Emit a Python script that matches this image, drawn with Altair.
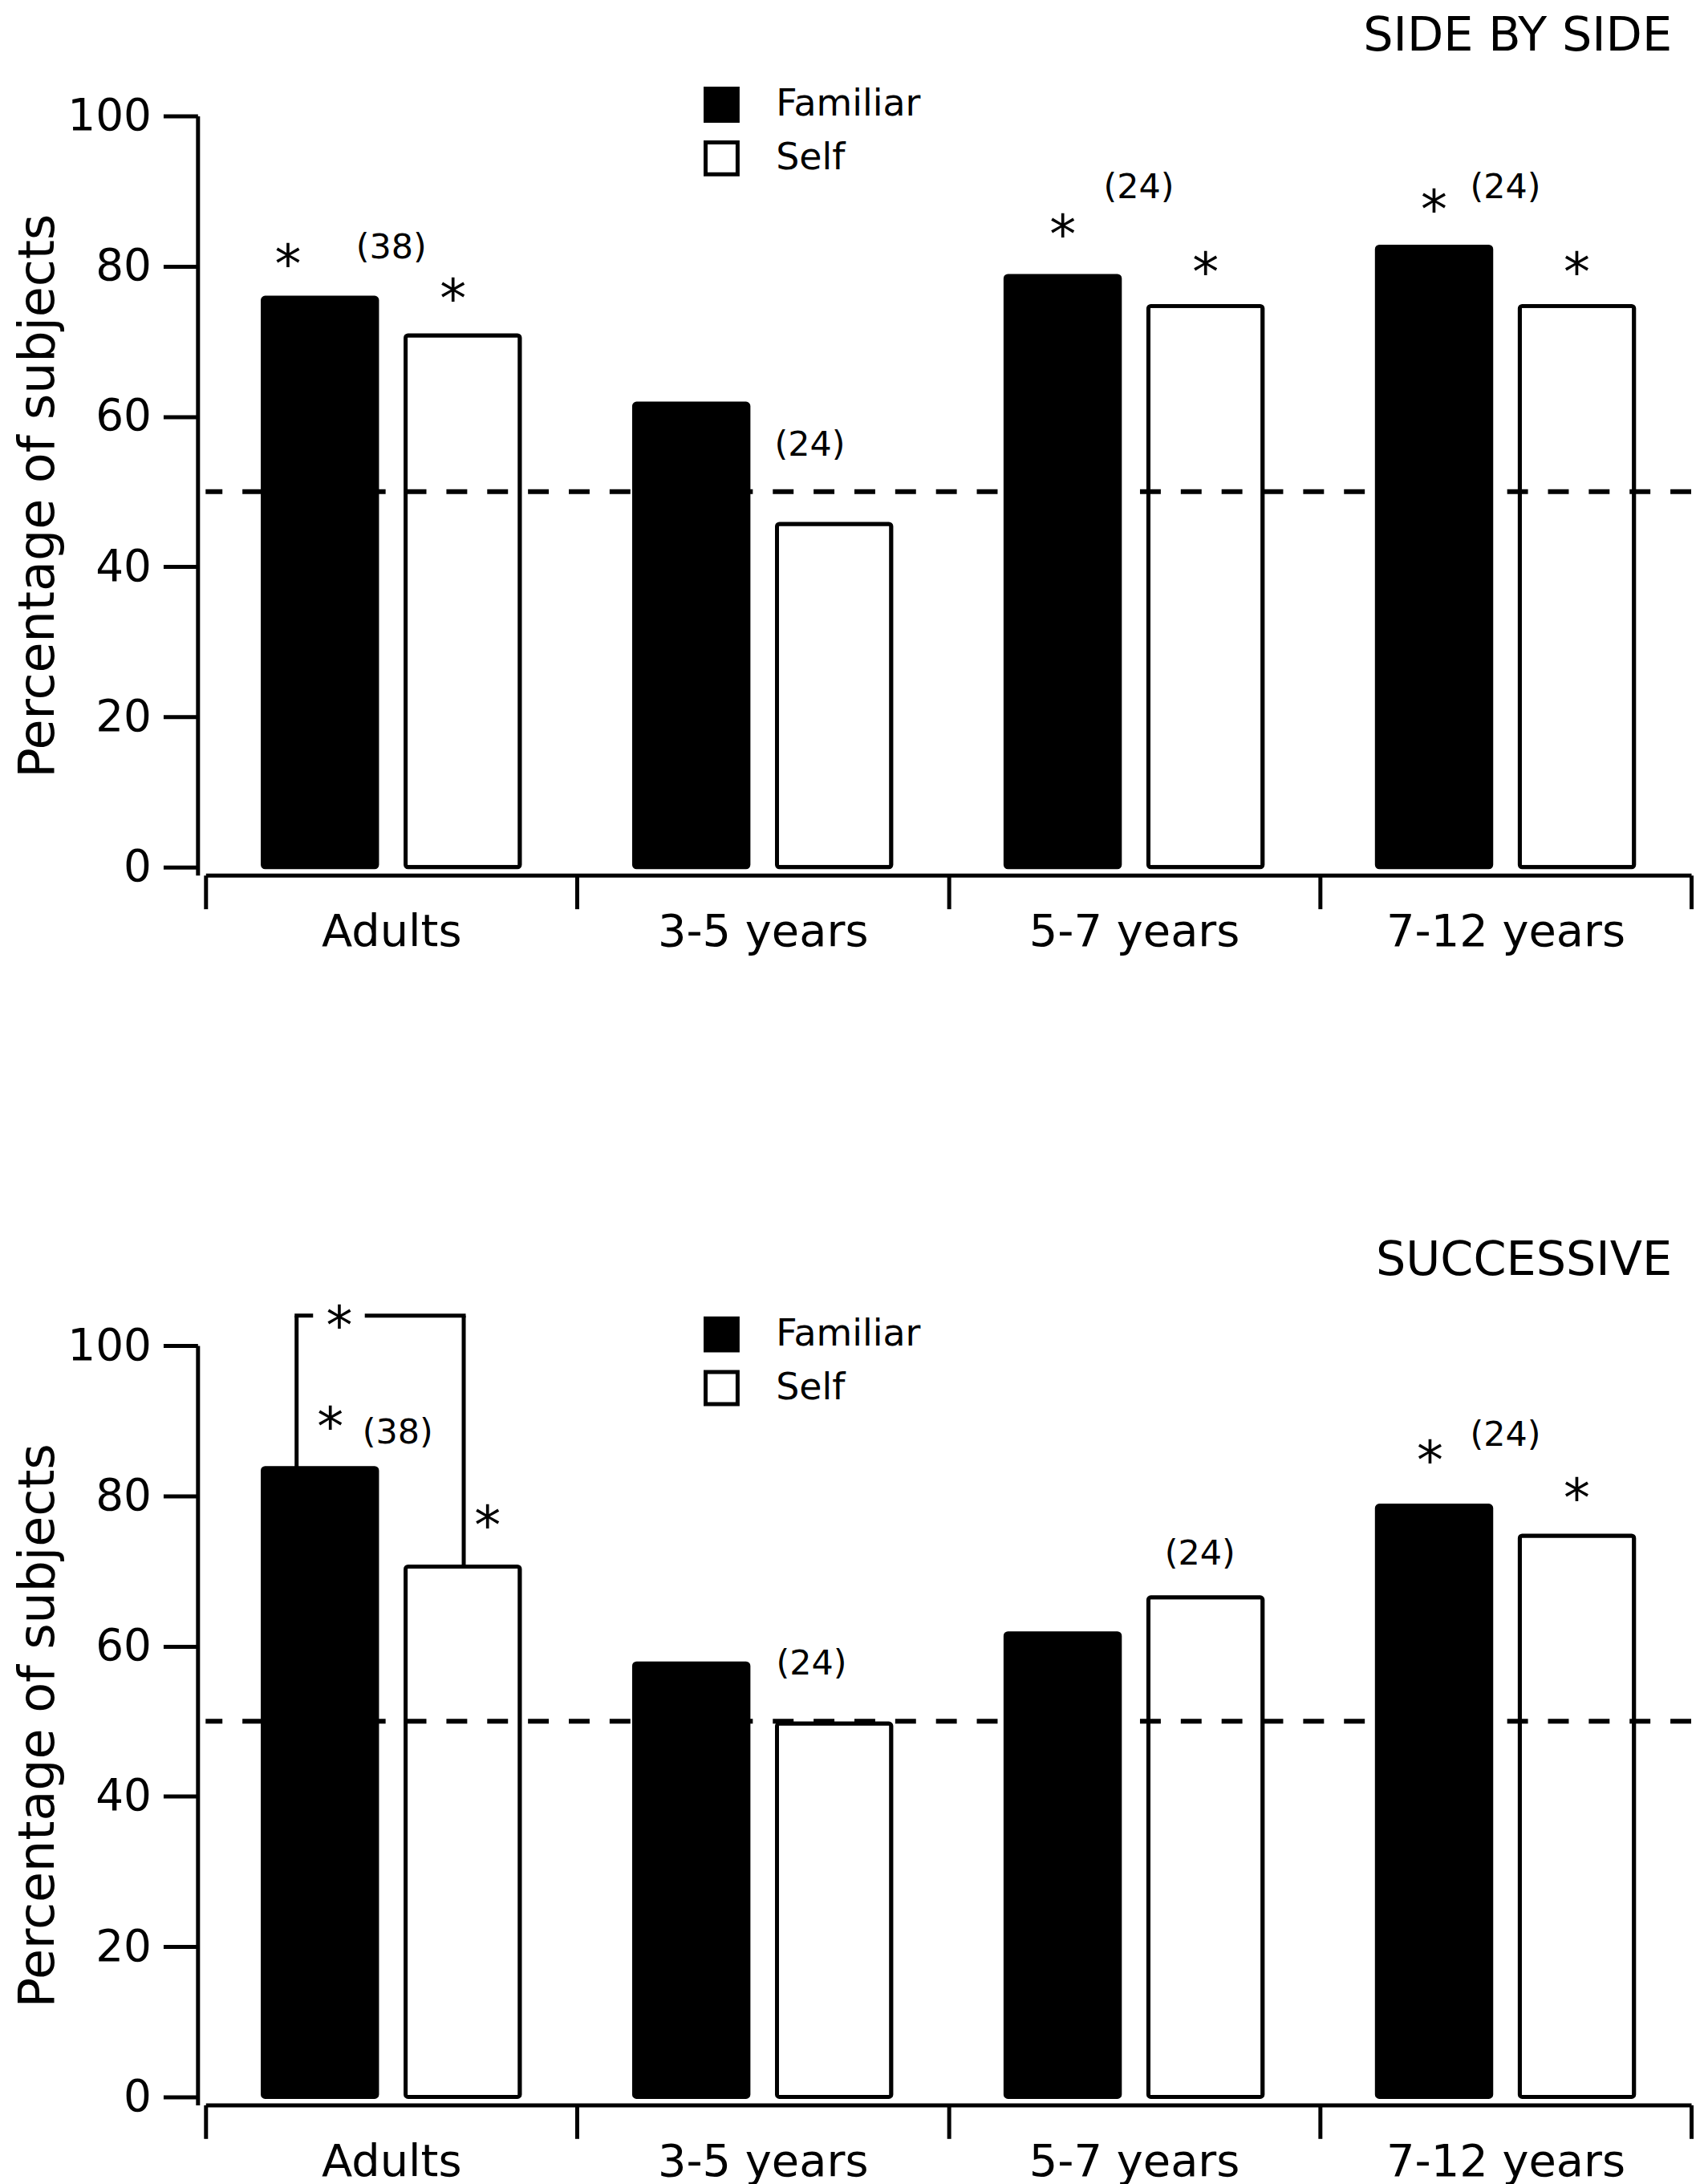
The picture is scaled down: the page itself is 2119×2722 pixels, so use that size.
import altair as alt
import pandas as pd

# ---------------- data ----------------
GROUPS = ["Adults", "3-5 years", "5-7 years", "7-12 years"]
CONDS = ["Familiar", "Self"]
SIDE_FAMILIAR = [75.8, 61.7, 78.7, 82.6]
SIDE_SELF = [70.8, 45.7, 74.7, 74.7]
SUCC_FAMILIAR = [83.7, 57.7, 61.7, 78.7]
SUCC_SELF = [70.6, 49.7, 66.5, 74.7]
CHANCE = 50
Y_TICKS = [0, 20, 40, 60, 80, 100]

# annotations: group, anchor ("Familiar"/"Self" bar or "center" of group), height, text
SIDE_ANN_GROUP = ["Adults", "Adults", "5-7 years", "5-7 years", "7-12 years", "7-12 years",
                  "Adults", "3-5 years", "5-7 years", "7-12 years"]
SIDE_ANN_ANCHOR = ["Familiar", "Self", "Familiar", "Self", "Familiar", "Self",
                   "center", "center", "center", "center"]
SIDE_ANN_VALUE = [81.2, 76.6, 85.2, 80.2, 88.5, 80.2, 82.4, 56.2, 90.4, 90.4]
SIDE_ANN_TEXT = ["*", "*", "*", "*", "*", "*", "(38)", "(24)", "(24)", "(24)"]

SUCC_ANN_GROUP = ["Adults", "Adults", "7-12 years", "7-12 years",
                  "Adults", "3-5 years", "5-7 years", "7-12 years"]
SUCC_ANN_ANCHOR = ["Familiar", "Self", "Familiar", "Self",
                   "center", "center", "Self", "center"]
SUCC_ANN_VALUE = [90.2, 77.0, 85.7, 80.7, 88.4, 57.6, 72.2, 88.1]
SUCC_ANN_TEXT = ["*", "*", "*", "*", "(38)", "(24)", "(24)", "(24)"]

# significance bracket (successive, adults familiar vs self)
BRACKET_GROUP = "Adults"
BRACKET_TOP = 104.0
BRACKET_STAR = 103.6

# ---------------- styling ----------------
W, H = 1857, 949
Y_MIN = -1.065
SIDE_NUDGE = [-40, -12, 0, 0, 0, 0, 0, 59, 6, 0]
SUCC_NUDGE = [13, 31, -5, 0, 8, 61, -7, 0]
BR_LEFT, BR_GAP_L, BR_GAP_R, BR_RIGHT, BR_STAR = 0.245, 0.284, 0.434, 0.695, 0.36
LW = 5
FONT = "DejaVu Sans"
STAR_SIZE, STAR_DY = 66, 12

xscale = alt.Scale(domain=GROUPS, paddingInner=0, paddingOuter=0)
yscale = alt.Scale(domain=[Y_MIN, 100], nice=False, zero=False)
xaxis = alt.Axis(title=None, tickBand="extent", labelAngle=0)
yaxis = alt.Axis(title="Percentage of subjects", values=Y_TICKS, offset=10)
offscale = alt.Scale(domain=CONDS, paddingInner=0.2, paddingOuter=0.4)


def X(bp=None):
    if bp is None:
        return alt.X("group:N", scale=xscale, axis=xaxis)
    return alt.X("group:N", scale=xscale, axis=xaxis, bandPosition=bp)


def Y(field="value"):
    return alt.Y(f"{field}:Q", scale=yscale, axis=yaxis)


def panel(title, fam, slf, a_group, a_anchor, a_value, a_text, a_nudge, title_offset,
          bracket=False):
    bars_df = pd.DataFrame({
        "group": GROUPS * 2,
        "cond": [CONDS[0]] * len(GROUPS) + [CONDS[1]] * len(GROUPS),
        "value": list(fam) + list(slf),
    })
    bars = alt.Chart(bars_df).mark_bar(stroke="black", strokeWidth=LW, cornerRadius=3).encode(
        x=X(),
        xOffset=alt.XOffset("cond:N", scale=offscale),
        y=Y(),
        fill=alt.Fill("cond:N", scale=alt.Scale(domain=CONDS, range=["black", "white"]),
                      legend=alt.Legend(title=None, orient="none", legendX=622, legendY=-37,
                                        symbolType="square", symbolSize=1600,
                                        symbolStrokeColor="black", symbolStrokeWidth=LW,
                                        labelFont=FONT, labelFontSize=46, labelOffset=45,
                                        labelLimit=0, rowPadding=7, padding=0, labelColor="black")),
    )
    chance = alt.Chart(pd.DataFrame({"value": [CHANCE]})).mark_rule(
        color="black", strokeWidth=6, strokeDash=[26, 25]).encode(y=Y())

    layers = [bars, chance]

    ann = pd.DataFrame({"group": a_group, "anchor": a_anchor, "value": a_value,
                        "text": a_text, "nudge": a_nudge})
    for (anchor_kind, txt_kind, nudge), sub in ann.assign(
            kind=ann["anchor"].where(ann["anchor"] == "center", "bar"),
            tk=ann["text"].where(ann["text"] == "*", "n")).groupby(["kind", "tk", "nudge"]):
        is_star = txt_kind == "*"
        mk = alt.Chart(sub).mark_text(
            font=FONT, fontSize=STAR_SIZE if is_star else 43, dx=int(nudge),
            dy=STAR_DY if is_star else 0, baseline="middle", color="black")
        enc = dict(x=X(), y=Y(), text="text:N")
        if anchor_kind == "bar":
            enc["xOffset"] = alt.XOffset("anchor:N", scale=offscale)
        layers.append(mk.encode(**enc))

    if bracket:
        legs = [(BR_LEFT, fam[GROUPS.index(BRACKET_GROUP)]), (BR_RIGHT, slf[GROUPS.index(BRACKET_GROUP)])]
        for bp, low in legs:
            d = pd.DataFrame({"group": [BRACKET_GROUP], "value": [low], "value2": [BRACKET_TOP]})
            layers.append(alt.Chart(d).mark_rule(color="black", strokeWidth=LW).encode(
                x=X(bp), y=Y(), y2=alt.Y2("value2:Q")))
        for b0, b1 in [(BR_LEFT, BR_GAP_L), (BR_GAP_R, BR_RIGHT)]:
            d = pd.DataFrame({"group": [BRACKET_GROUP], "value": [BRACKET_TOP]})
            layers.append(alt.Chart(d).mark_rule(color="black", strokeWidth=LW, strokeCap="square").encode(
                x=X(b0), x2=alt.X2("group:N", bandPosition=b1), y=Y()))
        d = pd.DataFrame({"group": [BRACKET_GROUP], "value": [BRACKET_STAR], "text": ["*"]})
        layers.append(alt.Chart(d).mark_text(font=FONT, fontSize=STAR_SIZE, dy=STAR_DY, baseline="middle",
                                             color="black").encode(x=X(BR_STAR), y=Y(), text="text:N"))

    return alt.layer(*layers).properties(
        width=W, height=H,
        title=alt.TitleParams(title, anchor="end", frame="group", font=FONT, fontSize=59,
                              fontWeight="normal", color="black", offset=title_offset, dx=-24),
    )


top = panel("SIDE BY SIDE", SIDE_FAMILIAR, SIDE_SELF, SIDE_ANN_GROUP, SIDE_ANN_ANCHOR,
            SIDE_ANN_VALUE, SIDE_ANN_TEXT, SIDE_NUDGE, 33)
bottom = panel("SUCCESSIVE", SUCC_FAMILIAR, SUCC_SELF, SUCC_ANN_GROUP, SUCC_ANN_ANCHOR,
               SUCC_ANN_VALUE, SUCC_ANN_TEXT, SUCC_NUDGE, 22, bracket=True)

chart = alt.vconcat(top, bottom, spacing=353).resolve_scale(fill="independent").resolve_legend(
    fill="independent").properties(
    padding={"left": 9, "top": 4, "right": 0, "bottom": 0}, background="white"
).configure_view(stroke=None).configure_axis(
    grid=False, domainColor="black", tickColor="black", labelColor="black", titleColor="black",
    domainWidth=LW, tickWidth=LW, labelLimit=0,
).configure_axisX(
    tickSize=42, labelFont=FONT, labelFontSize=56, labelPadding=2,
).configure_axisY(
    tickSize=43, labelFont=FONT, labelFontSize=55, labelPadding=15,
    titleFont=FONT, titleFontSize=62, titleFontWeight="normal", titlePadding=4,
)

chart.save("out.html", embed_options={"renderer": "svg", "actions": False})
